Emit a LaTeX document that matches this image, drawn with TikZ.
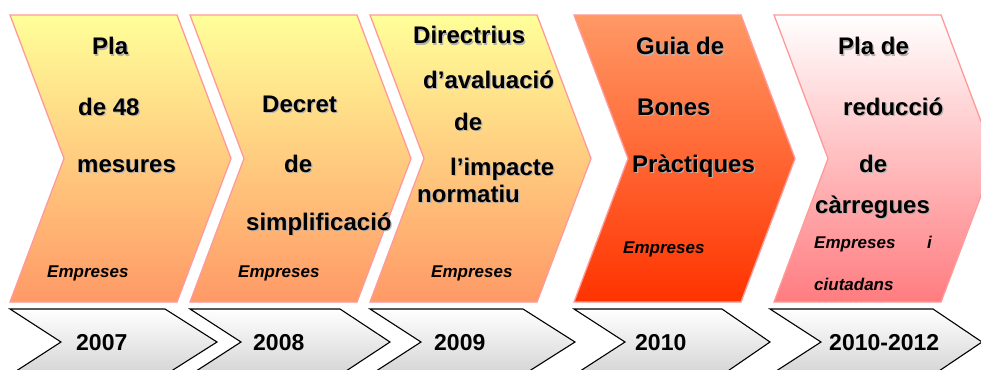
\documentclass[tikz,border=0pt]{standalone}
\usepackage{fontspec}
\setmainfont{Liberation Sans}
\usetikzlibrary{calc}
\definecolor{chevline}{HTML}{FF9A9A}
\definecolor{ytop}{HTML}{FFFF99}
\definecolor{ybot}{HTML}{FF9966}
\definecolor{otop}{HTML}{FF9966}
\definecolor{obot}{HTML}{FF3300}
\definecolor{ptop}{HTML}{FFFFFF}
\definecolor{pbot}{HTML}{FF7C80}
\definecolor{gbot}{HTML}{D4D4D4}
\newcommand\shd[1]{\leavevmode\rlap{\kern1.2pt\raisebox{-1.2pt}{\textcolor{black!30}{#1}}}#1}
\newcommand\topchev[3]{%
  \shade[topchevst, top color=#2, bottom color=#3]
    (#1,15) -- ++(167,0) -- ++(54,143.5) -- ++(-54,143.5) -- ++(-167,0) -- ++(54,-143.5) -- cycle;}
\newcommand\botchev[3]{%
  \shade[botchevst]
    (#1,309) -- (#2,309) -- (#3,342) -- (#2,375) -- (#1,375) -- ($(#1,342)+(51,0)$) -- cycle;}
\begin{document}
\begin{tikzpicture}[x=1pt,y=-1pt,
  topchevst/.style={draw=chevline, line width=1.3pt, line join=miter},
  botchevst/.style={draw=black, line width=1.1pt, line join=miter, top color=white, bottom color=gbot},
  title/.style={font=\fontsize{24}{28}\selectfont\bfseries, anchor=base west, inner sep=0pt},
  year/.style={font=\fontsize{23}{27}\selectfont\bfseries, anchor=base west, inner sep=0pt},
  sub/.style={font=\fontsize{17}{20}\selectfont\bfseries\itshape, anchor=base west, inner sep=0pt}]
\useasboundingbox (0,0) rectangle (981,369);
\clip (0,0) rectangle (981,369);
% top chevrons
\topchev{10}{ytop}{ybot}
\topchev{190}{ytop}{ybot}
\topchev{370}{ytop}{ybot}
\topchev{574}{otop}{obot}
\topchev{774}{ptop}{pbot}
% bottom chevrons
\botchev{10}{165}{217}
\botchev{190}{340}{390}
\botchev{370}{523}{575}
\botchev{574}{722}{770}
\botchev{770}{933}{982}
% chevron 1
\node[title] (a1) at (92,55) {\shd{Pla}};
\node[title] (a2) at (78,115) {\shd{de 48}};
\node[title] (a3) at (77,172) {\shd{mesures}};
\node[sub] (a4) at (47,277) {Empreses};
% chevron 2
\node[title] (b1) at (262,112) {\shd{Decret}};
\node[title] (b2) at (284,172) {\shd{de}};
\node[title] (b3) at (246,230) {\shd{simplificació}};
\node[sub] (b4) at (238,277) {Empreses};
% chevron 3
\node[title] (c1) at (413,44) {\shd{Directrius}};
\node[title] (c2) at (423,88) {\shd{d’avaluació}};
\node[title] (c3) at (454,130) {\shd{de}};
\node[title] (c4) at (450,175) {\shd{l’impacte}};
\node[title] (c5) at (417,202) {\shd{normatiu}};
\node[sub] (c6) at (431,277) {Empreses};
% chevron 4
\node[title] (d1) at (636,55) {\shd{Guia de}};
\node[title] (d2) at (637,115) {\shd{Bones}};
\node[title] (d3) at (632,172) {\shd{Pràctiques}};
\node[sub] (d4) at (623,253) {Empreses};
% chevron 5
\node[title] (e1) at (838,55) {\shd{Pla de}};
\node[title] (e2) at (843,115) {\shd{reducció}};
\node[title] (e3) at (859,172) {\shd{de}};
\node[title] (e4) at (815,213) {\shd{càrregues}};
\node[sub] (e5) at (814,248) {Empreses};
\node[sub] (e6) at (927,248) {i};
\node[sub] (e7) at (814,290) {ciutadans};
% years
\node[year] (y1) at (76,350) {2007};
\node[year] (y2) at (253,350) {2008};
\node[year] (y3) at (434,350) {2009};
\node[year] (y4) at (635,350) {2010};
\node[year] (y5) at (829,350) {2010-2012};
\end{tikzpicture}
\end{document}
